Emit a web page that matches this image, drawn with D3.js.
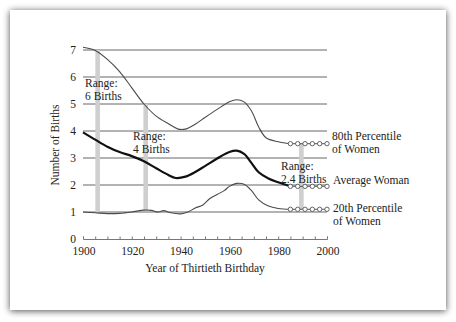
<!DOCTYPE html>
<html><head><meta charset="utf-8">
<script src="https://cdn.jsdelivr.net/npm/d3@7"></script>
<style>body{margin:0;background:#fff}svg{display:block}text{font-family:"Liberation Serif","DejaVu Serif",serif;fill:#222}</style>
</head><body>
<script>
const p80Years = [1900,1905,1910,1915,1920,1925,1930,1935,1939,1942,1946,1950,1955,1960,1963,1966,1969,1972,1975,1980,1985];
const p80Vals  = [7.1,6.98,6.65,6.2,5.6,5.0,4.55,4.27,4.07,4.07,4.25,4.5,4.8,5.08,5.16,5.08,4.75,4.15,3.75,3.6,3.53];
const avgYears = [1900,1905,1910,1915,1920,1925,1930,1935,1938,1942,1946,1950,1955,1960,1963,1966,1969,1972,1976,1980,1985];
const avgVals  = [3.95,3.68,3.42,3.22,3.07,2.88,2.62,2.37,2.26,2.31,2.48,2.7,2.98,3.22,3.27,3.15,2.82,2.47,2.24,2.1,1.95];
const p20Years = [1900,1905,1910,1915,1920,1925,1928,1931,1933,1936,1940,1943,1946,1949,1952,1955,1958,1960,1963,1966,1969,1972,1976,1980,1985];
const p20Vals  = [1.0,0.97,0.94,0.95,1.0,1.07,1.06,1.0,1.05,0.97,0.93,1.0,1.15,1.25,1.5,1.65,1.8,1.95,2.06,2.03,1.8,1.45,1.22,1.13,1.1];
const circleYears = [1985,1988,1991,1994,1997,2000];
const circleVals = {p80:3.53, avg:1.95, p20:1.1};
const barYears = [1906,1925.7,1989.5];
const barTops = [7.0,5.0,3.53];
const barBottoms = [1.0,1.03,1.1];
const yTicks = [0,1,2,3,4,5,6,7];
const xTicks = [1900,1920,1940,1960,1980,2000];

const W=456,H=322;
const svg=d3.select("body").append("svg").attr("width",W).attr("height",H);
const defs=svg.append("defs");
const f=defs.append("filter").attr("id","sh").attr("x","-10%").attr("y","-10%").attr("width","120%").attr("height","120%");
f.append("feDropShadow").attr("dx",0).attr("dy",1).attr("stdDeviation",3.5).attr("flood-color","#000").attr("flood-opacity",0.7);
svg.append("rect").attr("x",10).attr("y",10).attr("width",436).attr("height",300).attr("fill","#fff").attr("filter","url(#sh)");

const x=d3.scaleLinear().domain([1900,2000]).range([83,327]);
const y=d3.scaleLinear().domain([0,7]).range([239,50]);

// gridlines
svg.append("g").selectAll("line").data(yTicks.filter(d=>d>0)).join("line")
  .attr("x1",x(1900)).attr("x2",x(2000)).attr("y1",d=>y(d)).attr("y2",d=>y(d))
  .attr("stroke","#666").attr("stroke-width",1);

// x axis
const xa=svg.append("g").attr("transform",`translate(0,${y(0)})`)
  .call(d3.axisTop(x).tickValues(d3.range(1900,2001,5)).tickSize(2.5).tickFormat(""));
xa.select(".domain").attr("stroke","#777");
xa.selectAll(".tick line").attr("stroke","#777");
svg.append("g").selectAll("text").data(xTicks).join("text")
  .attr("x",d=>x(d)+1).attr("y",255).attr("text-anchor","middle").attr("font-size",11.5).text(d=>d);
svg.append("g").selectAll("text").data(yTicks).join("text")
  .attr("x",76).attr("y",d=>y(d)+4).attr("text-anchor","end").attr("font-size",11.5).text(d=>d);

svg.append("text").attr("x",205).attr("y",272).attr("text-anchor","middle").attr("font-size",11.5).text("Year of Thirtieth Birthday");
svg.append("text").attr("transform","translate(59,145) rotate(-90)").attr("text-anchor","middle").attr("font-size",11.5).text("Number of Births");

// bars
svg.append("g").selectAll("rect").data(barYears).join("rect")
  .attr("x",(d)=>x(d)-2.3).attr("width",4.6)
  .attr("y",(d,i)=>y(barTops[i])).attr("height",(d,i)=>y(barBottoms[i])-y(barTops[i]))
  .attr("fill","#cfcfcf");

const line=d3.line().x(d=>x(d[0])).y(d=>y(d[1])).curve(d3.curveCatmullRom.alpha(0.5));
function series(years,vals,cv,color,w){
  const pts=years.map((d,i)=>[d,vals[i]]);
  svg.append("path").attr("d",line(pts)).attr("fill","none").attr("stroke",color).attr("stroke-width",w).attr("stroke-linejoin","round");
  svg.append("line").attr("x1",x(years[years.length-1])).attr("x2",x(2000)).attr("y1",y(cv)).attr("y2",y(cv))
    .attr("stroke","#555").attr("stroke-width",1);
  svg.append("g").selectAll("circle").data(circleYears).join("circle")
    .attr("cx",d=>x(d)).attr("cy",y(cv)).attr("r",2.2).attr("fill","#fff").attr("stroke","#555").attr("stroke-width",0.9);
}
series(p80Years,p80Vals,circleVals.p80,"#4a4a4a",1.1);
series(p20Years,p20Vals,circleVals.p20,"#4a4a4a",1.1);
series(avgYears,avgVals,circleVals.avg,"#111",2.2);

function label(lines,xp,yp,size){
  const t=svg.append("text").attr("font-size",size||11.5);
  lines.forEach((l,i)=>t.append("tspan").attr("x",xp).attr("y",yp+i*13).text(l));
}
label(["Range:","6 Births"],85,87);
label(["Range:","4 Births"],133,140);
label(["Range:","2.4 Births"],281,170);
label(["80th Percentile","of Women"],332,140);
label(["Average Woman"],333,184);
label(["20th Percentile","of Women"],333,212);
</script>
</body></html>
